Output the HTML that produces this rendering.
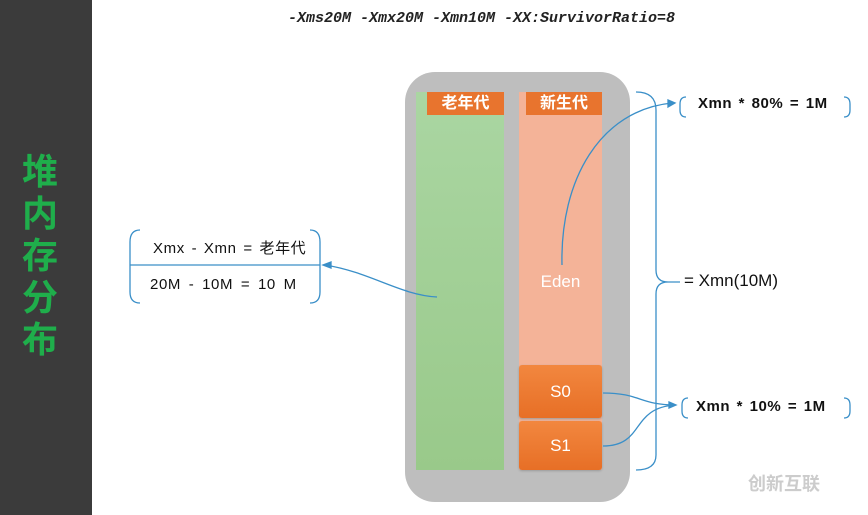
<!DOCTYPE html>
<html><head><meta charset="utf-8"><style>
body{margin:0;width:868px;height:515px;overflow:hidden;background:#fff;position:relative;font-family:"Liberation Sans","Noto Sans CJK SC",sans-serif}
.a{position:absolute}
</style></head><body>
<div class="a" style="left:0;top:0;width:92px;height:515px;background:#3b3b3b"></div>
<div class="a" style="left:18px;top:148px;width:44px;font-size:36px;line-height:42px;color:#1fae4b;font-weight:bold;font-family:'Noto Sans CJK SC',sans-serif;text-align:center">堆<br>内<br>存<br>分<br>布</div>
<div class="a" style="left:288px;top:10px;font:italic bold 15px 'Liberation Mono',monospace;color:#222">-Xms20M -Xmx20M -Xmn10M -XX:SurvivorRatio=8</div>
<div class="a" style="left:405px;top:72px;width:225px;height:430px;background:#bebebe;border-radius:30px"></div>
<div class="a" style="left:416px;top:92px;width:88px;height:378px;background:linear-gradient(#aad6a2,#99c98a)"></div>
<div class="a" style="left:519px;top:92px;width:83px;height:378px;background:#f4b398"></div>
<div class="a" style="left:427px;top:92px;width:77px;height:23px;background:#e8742e;color:#fff;font-weight:bold;font-size:16px;text-align:center;line-height:23px">老年代</div>
<div class="a" style="left:526px;top:92px;width:76px;height:23px;background:#e8742e;color:#fff;font-weight:bold;font-size:16px;text-align:center;line-height:23px">新生代</div>
<div class="a" style="left:519px;top:272px;width:83px;text-align:center;color:#fff;font-size:17px">Eden</div>
<div class="a" style="left:519px;top:365px;width:83px;height:53px;background:linear-gradient(#f2873f,#e76f26);border-radius:3px;color:#fff;font-size:17px;text-align:center;line-height:53px;box-shadow:0 1px 2px #999">S0</div>
<div class="a" style="left:519px;top:421px;width:83px;height:49px;background:linear-gradient(#f2873f,#e76f26);border-radius:3px;color:#fff;font-size:17px;text-align:center;line-height:49px;box-shadow:0 1px 2px #999">S1</div>
<div class="a" style="left:684px;top:271px;font-size:17px;color:#111">= Xmn(10M)</div>
<div class="a" style="left:698px;top:95px;font-size:15px;color:#111;font-weight:bold;letter-spacing:0.5px;word-spacing:2px">Xmn * 80% = 1M</div>
<div class="a" style="left:696px;top:398px;font-size:15px;color:#111;font-weight:bold;letter-spacing:0.5px;word-spacing:2px">Xmn * 10% = 1M</div>
<div class="a" style="left:153px;top:237px;font-size:15px;color:#111;letter-spacing:0.6px;word-spacing:2px">Xmx - Xmn = 老年代</div>
<div class="a" style="left:150px;top:276px;font-size:15px;color:#111;letter-spacing:0.6px;word-spacing:3px">20M - 10M = 10 M</div>
<div class="a" style="left:748px;top:470px;font-size:18px;color:#ccc;font-weight:bold">创新互联</div>
<svg class="a" style="left:0;top:0" width="868" height="515" fill="none" stroke="#3a8fc8" stroke-width="1.3">
<path d="M636 92 Q656 92 656 110 V270 Q656 282 668 282 H680 M668 282 Q656 282 656 294 V455 Q656 470 636 470"/>
<path d="M686 97 Q680 97 680 104 V110 Q680 117 686 117"/>
<path d="M844 97 Q850 97 850 104 V110 Q850 117 844 117"/>
<path d="M688 398 Q682 398 682 405 V411 Q682 418 688 418"/>
<path d="M844 398 Q850 398 850 405 V411 Q850 418 844 418"/>
<path d="M140 230 Q130 230 130 242 V292 Q130 303 140 303"/>
<path d="M310 230 Q320 230 320 242 V292 Q320 303 310 303"/>
<path d="M130 265 H320"/>
<path d="M562 265 C560 180 600 110 672 103"/>
<path d="M603 393 C640 393 640 405 675 405"/>
<path d="M603 446 C645 446 630 408 675 405"/>
<path d="M437 297 C400 295 370 272 325 265"/>
<path d="M668 100 L675 103 L668 107 Z M669 402 L676 405 L669 408 Z M331 262 L323 265 L331 268 Z" fill="#3a8fc8"/>
</svg>
</body></html>
